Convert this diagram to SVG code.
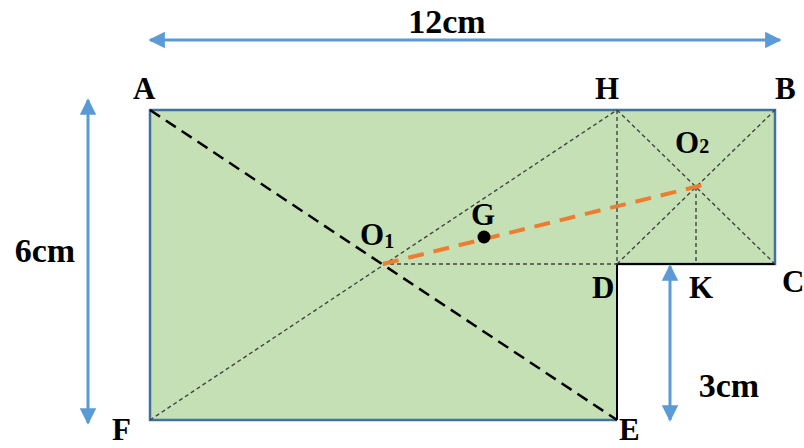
<svg xmlns="http://www.w3.org/2000/svg" width="804" height="448" viewBox="0 0 804 448">
<defs>
<style>
.lbl{font-family:"Liberation Serif","Times New Roman",serif;font-weight:bold;font-size:31px;fill:#000}
.big{font-size:34px}
.dim{stroke:#5b9bd5;stroke-width:3;fill:none}
.thin{stroke:#444;stroke-width:1.4;stroke-dasharray:4 3;fill:none}
</style>
<marker id="ah" viewBox="0 0 10 10" refX="9" refY="5" markerWidth="5.5" markerHeight="5.5" orient="auto-start-reverse" markerUnits="strokeWidth">
<path d="M0,0 L10,5 L0,10 Z" fill="#5b9bd5"/>
</marker>
</defs>
<rect width="804" height="448" fill="#fff"/>
<g id="shape">
<path d="M150,110 H775 V264 H617 V420 H150 Z" fill="#c5e0b4"/>
<path d="M617,264 H775 V110 H150 V420 H617" fill="none" stroke="#41719c" stroke-width="2.5"/>
<path d="M775,264 H617 V420" fill="none" stroke="#000" stroke-width="2"/>
</g>
<g id="connectors">
<line class="thin" x1="150" y1="420" x2="617" y2="110"/>
<line class="thin" x1="617" y1="110" x2="617" y2="264"/>
<line class="thin" x1="617" y1="110" x2="775" y2="264"/>
<line class="thin" x1="617" y1="264" x2="775" y2="110"/>
<line class="thin" x1="383" y1="264" x2="617" y2="264"/>
<line class="thin" x1="696" y1="187" x2="696" y2="264" stroke="#777"/>
<line x1="150" y1="110" x2="617" y2="420" stroke="#000" stroke-width="2.5" stroke-dasharray="12 7"/>
<line x1="383" y1="264" x2="703" y2="185" stroke="#ed7d31" stroke-width="4" stroke-dasharray="16 10"/>
<line class="dim" x1="150" y1="40" x2="780" y2="40" marker-start="url(#ah)" marker-end="url(#ah)"/>
<line class="dim" x1="88" y1="100" x2="88" y2="423" marker-start="url(#ah)" marker-end="url(#ah)"/>
<line class="dim" x1="670" y1="266" x2="670" y2="420" marker-start="url(#ah)" marker-end="url(#ah)"/>
</g>
<g id="G"><circle cx="484" cy="237" r="6.5" fill="#000"/><text class="lbl" x="471" y="225">G</text></g>
<g id="A"><text class="lbl" x="133" y="99">A</text></g>
<g id="H"><text class="lbl" x="595" y="99">H</text></g>
<g id="B"><text class="lbl" x="775" y="99">B</text></g>
<g id="O1"><text class="lbl" x="360" y="245">O<tspan font-size="20" dy="3">1</tspan></text></g>
<g id="O2"><text class="lbl" x="675" y="153">O<tspan font-size="20">2</tspan></text></g>
<g id="D"><text class="lbl" x="592" y="298">D</text></g>
<g id="K"><text class="lbl" x="689" y="298">K</text></g>
<g id="C"><text class="lbl" x="782" y="292">C</text></g>
<g id="E"><text class="lbl" x="619" y="440">E</text></g>
<g id="F"><text class="lbl" x="112" y="440">F</text></g>
<g id="dims">
<text class="lbl big" x="447" y="33" text-anchor="middle">12cm</text>
<text class="lbl big" x="45" y="262" text-anchor="middle">6cm</text>
<text class="lbl big" x="729" y="397" text-anchor="middle">3cm</text>
</g>
</svg>
